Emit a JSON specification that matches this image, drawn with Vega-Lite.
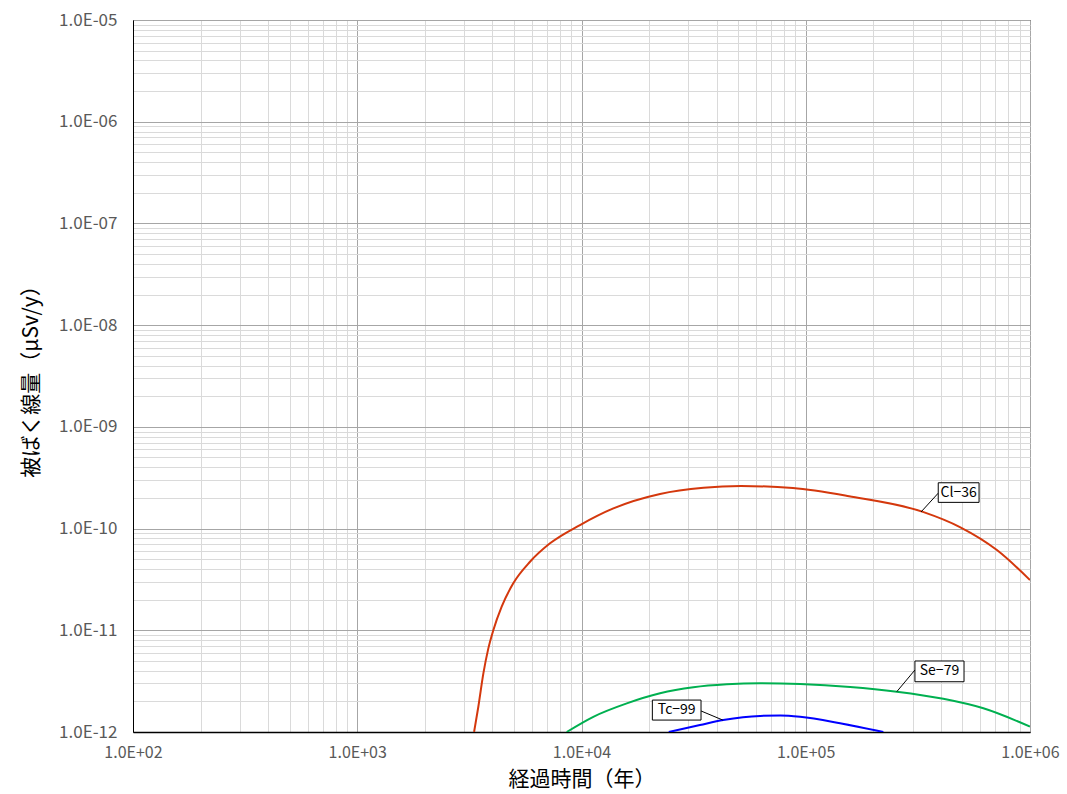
{
  "$schema": "https://vega.github.io/schema/vega-lite/v6.json",
  "width": 897,
  "height": 712,
  "autosize": {"type": "none"},
  "padding": {"left": 133, "top": 20, "right": 37, "bottom": 62},
  "background": "white",
  "config": {"view": {"stroke": "#000000", "strokeWidth": 1}, "font": "Noto Sans CJK JP"},
  "datasets": {
    "curves": [
      {"nuclide": "Cl-36", "t": 3319, "dose": 1.0e-12},
      {"nuclide": "Cl-36", "t": 3467, "dose": 1.77e-12},
      {"nuclide": "Cl-36", "t": 3651, "dose": 3.77e-12},
      {"nuclide": "Cl-36", "t": 3840, "dose": 6.6e-12},
      {"nuclide": "Cl-36", "t": 4043, "dose": 1.0e-11},
      {"nuclide": "Cl-36", "t": 4406, "dose": 1.706e-11},
      {"nuclide": "Cl-36", "t": 4963, "dose": 2.90e-11},
      {"nuclide": "Cl-36", "t": 5893, "dose": 4.72e-11},
      {"nuclide": "Cl-36", "t": 7239, "dose": 7.16e-11},
      {"nuclide": "Cl-36", "t": 9847, "dose": 1.084e-10},
      {"nuclide": "Cl-36", "t": 13870, "dose": 1.58e-10},
      {"nuclide": "Cl-36", "t": 22400, "dose": 2.19e-10},
      {"nuclide": "Cl-36", "t": 35000, "dose": 2.52e-10},
      {"nuclide": "Cl-36", "t": 51420, "dose": 2.62e-10},
      {"nuclide": "Cl-36", "t": 87700, "dose": 2.50e-10},
      {"nuclide": "Cl-36", "t": 156000, "dose": 2.08e-10},
      {"nuclide": "Cl-36", "t": 333000, "dose": 1.46e-10},
      {"nuclide": "Cl-36", "t": 487000, "dose": 1.035e-10},
      {"nuclide": "Cl-36", "t": 712000, "dose": 6.15e-11},
      {"nuclide": "Cl-36", "t": 1000000, "dose": 3.12e-11},
      {"nuclide": "Se-79", "t": 8590, "dose": 1.0e-12},
      {"nuclide": "Se-79", "t": 11290, "dose": 1.41e-12},
      {"nuclide": "Se-79", "t": 15920, "dose": 1.91e-12},
      {"nuclide": "Se-79", "t": 22400, "dose": 2.40e-12},
      {"nuclide": "Se-79", "t": 31540, "dose": 2.75e-12},
      {"nuclide": "Se-79", "t": 44440, "dose": 2.94e-12},
      {"nuclide": "Se-79", "t": 62560, "dose": 3.01e-12},
      {"nuclide": "Se-79", "t": 94330, "dose": 2.96e-12},
      {"nuclide": "Se-79", "t": 157700, "dose": 2.77e-12},
      {"nuclide": "Se-79", "t": 254700, "dose": 2.49e-12},
      {"nuclide": "Se-79", "t": 410600, "dose": 2.12e-12},
      {"nuclide": "Se-79", "t": 619400, "dose": 1.71e-12},
      {"nuclide": "Se-79", "t": 1000000, "dose": 1.13e-12},
      {"nuclide": "Tc-99", "t": 24500, "dose": 1.0e-12},
      {"nuclide": "Tc-99", "t": 33740, "dose": 1.17e-12},
      {"nuclide": "Tc-99", "t": 42850, "dose": 1.31e-12},
      {"nuclide": "Tc-99", "t": 62560, "dose": 1.44e-12},
      {"nuclide": "Tc-99", "t": 77000, "dose": 1.45e-12},
      {"nuclide": "Tc-99", "t": 94330, "dose": 1.41e-12},
      {"nuclide": "Tc-99", "t": 142300, "dose": 1.22e-12},
      {"nuclide": "Tc-99", "t": 221800, "dose": 1.0e-12}
    ],
    "labels": [
      {"nuclide": "Cl-36", "text": "Cl−36", "lx": 389800, "rx": 592700, "ty": 2.82e-10, "by": 1.81e-10, "cx": 481000, "cy": 2.26e-10, "ax": 326500, "ay": 1.455e-10, "bx": 389800, "bpy": 2.23e-10},
      {"nuclide": "Se-79", "text": "Se−79", "lx": 306800, "rx": 507900, "ty": 4.99e-12, "by": 3.12e-12, "cx": 394700, "cy": 3.95e-12, "ax": 254600, "ay": 2.49e-12, "bx": 306800, "bpy": 4.07e-12},
      {"nuclide": "Tc-99", "text": "Tc−99", "lx": 20700, "rx": 34120, "ty": 2.06e-12, "by": 1.31e-12, "cx": 26580, "cy": 1.64e-12, "ax": 42660, "ay": 1.31e-12, "bx": 34120, "bpy": 1.61e-12}
    ]
  },
  "layer": [
    {
      "data": {"name": "curves"},
      "mark": {"type": "line", "strokeWidth": 2, "interpolate": "monotone", "clip": true},
      "encoding": {
        "x": {
          "field": "t", "type": "quantitative",
          "scale": {"type": "log", "domain": [100, 1000000], "nice": false},
          "axis": {
            "values": [100,200,300,400,500,600,700,800,900,1000,2000,3000,4000,5000,6000,7000,8000,9000,10000,20000,30000,40000,50000,60000,70000,80000,90000,100000,200000,300000,400000,500000,600000,700000,800000,900000,1000000],
            "labelExpr": "abs(log(datum.value)/LN10 - round(log(datum.value)/LN10)) < 0.001 ? '1.0E+0' + round(log(datum.value)/LN10) : ''",
            "grid": true,
            "gridColor": {"condition": {"test": "abs(log(datum.value)/LN10 - round(log(datum.value)/LN10)) < 0.001", "value": "#a6a6a6"}, "value": "#dadada"},
            "gridWidth": 1,
            "ticks": false,
            "domainColor": "#000000",
            "domainWidth": 1.5,
            "labelFont": "Noto Sans CJK JP",
            "labelFontSize": 16,
            "labelColor": "#595959",
            "labelPadding": 12,
            "labelOverlap": false,
            "labelBound": false,
            "labelFlush": false,
            "title": "経過時間（年）",
            "titleFont": "Noto Sans CJK JP",
            "titleFontSize": 21,
            "titleFontWeight": "normal",
            "titleColor": "#000000",
            "titlePadding": 8
          }
        },
        "y": {
          "field": "dose", "type": "quantitative",
          "scale": {"type": "log", "domain": [1e-12, 1e-5], "nice": false},
          "axis": {
            "values": [1e-12,2e-12,3e-12,4e-12,5e-12,6e-12,7e-12,8e-12,9e-12,1e-11,2e-11,3e-11,4e-11,5e-11,6e-11,7e-11,8e-11,9e-11,1e-10,2e-10,3e-10,4e-10,5e-10,6e-10,7e-10,8e-10,9e-10,1e-9,2e-9,3e-9,4e-9,5e-9,6e-9,7e-9,8e-9,9e-9,1e-8,2e-8,3e-8,4e-8,5e-8,6e-8,7e-8,8e-8,9e-8,1e-7,2e-7,3e-7,4e-7,5e-7,6e-7,7e-7,8e-7,9e-7,1e-6,2e-6,3e-6,4e-6,5e-6,6e-6,7e-6,8e-6,9e-6,1e-5],
            "labelExpr": "abs(log(datum.value)/LN10 - round(log(datum.value)/LN10)) < 0.001 ? '1.0E-' + (-round(log(datum.value)/LN10) < 10 ? '0' : '') + (-round(log(datum.value)/LN10)) : ''",
            "grid": true,
            "gridColor": {"condition": {"test": "abs(log(datum.value)/LN10 - round(log(datum.value)/LN10)) < 0.001", "value": "#a6a6a6"}, "value": "#dadada"},
            "gridWidth": 1,
            "ticks": false,
            "domainColor": "#000000",
            "domainWidth": 1,
            "labelFont": "Noto Sans CJK JP",
            "labelFontSize": 17,
            "labelColor": "#595959",
            "labelPadding": 16,
            "labelOverlap": false,
            "labelBound": false,
            "labelFlush": false,
            "title": "被ばく線量（μSv/y）",
            "titleFont": "Noto Sans CJK JP",
            "titleFontSize": 21,
            "titleFontWeight": "normal",
            "titleColor": "#000000",
            "titlePadding": 17
          }
        },
        "color": {
          "field": "nuclide", "type": "nominal",
          "scale": {"domain": ["Cl-36", "Se-79", "Tc-99"], "range": ["#d4380d", "#00b050", "#0000ff"]},
          "legend": null
        }
      }
    },
    {
      "data": {"name": "labels"},
      "mark": {"type": "rule", "color": "#000000", "strokeWidth": 1},
      "encoding": {
        "x": {"field": "ax", "type": "quantitative"},
        "y": {"field": "ay", "type": "quantitative"},
        "x2": {"field": "bx"},
        "y2": {"field": "bpy"}
      }
    },
    {
      "data": {"name": "labels"},
      "mark": {"type": "rect", "fill": "#ffffff", "stroke": "#000000", "strokeWidth": 1},
      "encoding": {
        "x": {"field": "lx", "type": "quantitative"},
        "x2": {"field": "rx"},
        "y": {"field": "ty", "type": "quantitative"},
        "y2": {"field": "by"}
      }
    },
    {
      "data": {"name": "labels"},
      "mark": {"type": "text", "font": "Noto Sans CJK JP", "fontSize": 14, "color": "#000000", "align": "center", "baseline": "middle"},
      "encoding": {
        "x": {"field": "cx", "type": "quantitative"},
        "y": {"field": "cy", "type": "quantitative"},
        "text": {"field": "text"}
      }
    }
  ]
}
